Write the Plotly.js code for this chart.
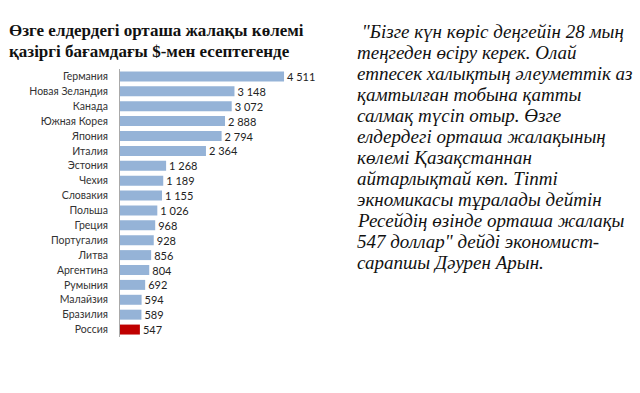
<!DOCTYPE html>
<html><head><meta charset="utf-8">
<script src="https://cdn.plot.ly/plotly-3.0.1.min.js"></script>
<style>html,body{margin:0;padding:0;background:#fff}#c{width:640px;height:393px}</style>
</head><body><div id="c"></div>
<script>
const countries = ["Германия","Новая Зеландия","Канада","Южная Корея","Япония","Италия","Эстония","Чехия","Словакия","Польша","Греция","Португалия","Литва","Аргентина","Румыния","Малайзия","Бразилия","Россия"];
const wages = [4511,3148,3072,2888,2794,2364,1268,1189,1155,1026,968,928,856,804,692,594,589,547];
const highlight = "Россия";
const titleLines = ["Өзге елдердегі орташа жалақы көлемі","қазіргі бағамдағы $-мен есептегенде"];
const quoteLines = [" \"Бізге күн көріс деңгейін 28 мың","теңгеден өсіру керек. Олай","етпесек халықтың әлеуметтік аз","қамтылған тобына қатты","салмақ түсіп отыр. Өзге","елдердегі орташа жалақының","көлемі Қазақстаннан","айтарлықтай көп. Тіпті","экномикасы тұралады дейтін","Ресейдің өзінде орташа жалақы","547 доллар\" дейді экономист-","сарапшы Дәурен Арын."];

const fmt = v => { const s = String(v); return s.length > 3 ? s.slice(0, s.length-3) + "\u00a0" + s.slice(-3) : s; };

const trace = {
  type: "bar", orientation: "h",
  x: wages, y: countries,
  marker: {color: countries.map(c => c === highlight ? "#C00000" : "#95B3D7")},
  text: wages.map(fmt), textposition: "outside", cliponaxis: false, constraintext: "none",
  textfont: {family: "Lato, 'Open Sans', sans-serif", size: 11, color: "#222"},
  hoverinfo: "none"
};

const PT = 68.5, PH = 269, PL = 120, PW = 200;
const px = x => (x - PL) / PW;
const py = y => (PT + PH - y) / PH;

const annotations = [];
titleLines.forEach((t, i) => annotations.push({
  xref: "paper", yref: "paper", x: px(7), y: py(30 + 20.5 * i), xanchor: "left", yanchor: "middle",
  text: "<b>" + t + "</b>", showarrow: false,
  font: {family: "'Liberation Serif', serif", size: 17, color: "#111"}
}));
quoteLines.forEach((t, i) => annotations.push({
  xref: "paper", yref: "paper", x: px(355), y: py(31 + 21.1 * i), xanchor: "left", yanchor: "middle",
  text: "<i>" + t + "</i>", showarrow: false,
  font: {family: "'Liberation Serif', serif", size: 19, color: "#111"}
}));

const layout = {
  width: 640, height: 393,
  paper_bgcolor: "#fff", plot_bgcolor: "#fff",
  margin: {l: PL, r: 640 - PL - PW, t: PT, b: 393 - PT - PH},
  showlegend: false,
  bargap: 0.33,
  xaxis: {range: [0, 5500], visible: false, fixedrange: true},
  yaxis: {autorange: "reversed", showline: true, linecolor: "#aaa", linewidth: 1,
          ticks: "outside", ticklen: 9, tickcolor: "rgba(0,0,0,0)", showgrid: false,
          tickfont: {family: "Lato, 'Open Sans', sans-serif", size: 10.5, color: "#333"}},
  annotations: annotations
};

Plotly.newPlot("c", [trace], layout, {staticPlot: true, displayModeBar: false});
</script></body></html>
